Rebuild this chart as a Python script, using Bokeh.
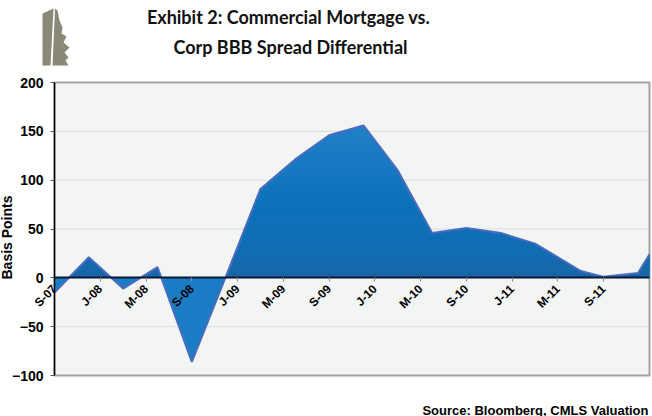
from math import pi
from bokeh.plotting import figure
from bokeh.layouts import column
from bokeh.models import Range1d, FixedTicker
from bokeh.core.properties import value
from bokeh.embed import file_html
from bokeh.resources import INLINE

# ---- data (month index counted from Sep 2007) ----
months = [0, 3, 6, 9, 12, 15, 18, 21, 24, 27, 30, 33, 36, 39, 42, 46, 48, 51, 52]
spread_diff = [-15, 21, -11, 11, -86, 2, 91, 121, 146, 156, 110, 46, 51, 46, 35, 7, 1, 5, 24]
tick_months = [0, 4, 8, 12, 16, 20, 24, 28, 32, 36, 40, 44, 48]
tick_labels = ["S-07", "J-08", "M-08", "S-08", "J-09", "M-09", "S-09",
               "J-10", "M-10", "S-10", "J-11", "M-11", "S-11"]
y_ticks = [-100, -50, 0, 50, 100, 150, 200]
title_lines = ["Exhibit 2: Commercial Mortgage vs.", "Corp BBB Spread Differential"]
y_title = "Basis Points"
source_text = "Source: Bloomberg, CMLS Valuation"

X0, X1 = 0, 52          # axis extent (months)
Y0, Y1 = -100, 200      # axis extent (basis points)

ARIAL = "Liberation Sans"

# ---- layout geometry of the main chart (pixels) ----
W, H = 652, 320
FL, FR, FT, FB = 54, 649, 10, 303   # plot-area edges inside the main canvas
ppx = (FR - FL) / (X1 - X0)
ppy = (FB - FT) / (Y1 - Y0)
x_start = X0 - FL / ppx
x_end = X1 + (W - FR) / ppx
y_start = Y0 - (H - FB) / ppy
y_end = Y1 + FT / ppy

# ---- gradient styling for the area fill ----
NEG_COLOR = "#1b7cc6"
grad_stops = [(0, (0x17, 0x67, 0xa8)), (30, (0x10, 0x6d, 0xb3)),
              (70, (0x0b, 0x71, 0xba)), (160, (0x22, 0x82, 0xc8))]
grad_levels = list(range(0, 160, 8))


def grad_color(t):
    for (t0, c0), (t1, c1) in zip(grad_stops[:-1], grad_stops[1:]):
        if t0 <= t <= t1:
            f = (t - t0) / (t1 - t0)
            return "#%02x%02x%02x" % tuple(round(a + (b - a) * f) for a, b in zip(c0, c1))
    return "#%02x%02x%02x" % grad_stops[-1][1]


def part_above(t):
    """Outline of the area part lying above level t (crossings of level t added)."""
    xs, ys = [], []
    for i, (x, y) in enumerate(zip(months, spread_diff)):
        if i > 0:
            xp, yp = months[i - 1], spread_diff[i - 1]
            if (yp - t) * (y - t) < 0:
                xs.append(xp + (t - yp) * (x - xp) / (y - yp))
                ys.append(t)
        xs.append(x)
        ys.append(max(y, t))
    return xs, ys


# ---- header (title + logo) ----
header = figure(width=652, height=72, x_range=Range1d(0, 652), y_range=Range1d(72, 0),
                toolbar_location=None, output_backend="svg", min_border=0)
header.xaxis.visible = False
header.yaxis.visible = False
header.grid.visible = False
header.outline_line_color = None
header.text(x=[288, 290], y=[16.5, 46], text=title_lines,
            text_font=value("Lato"), text_font_style="bold", text_font_size="18px",
            text_align="center", text_baseline="alphabetic", text_color="#111111")
# small logo mark
header.patch([42, 53, 50, 42], [13, 8, 65, 65], fill_color="#8a8977", line_color=None)
header.patch([54.5, 57, 59, 62, 61, 66, 63, 69, 64, 68, 65, 68, 52],
             [8, 10, 20, 27, 33, 36, 42, 47, 52, 57, 60, 65, 65],
             fill_color="#8a8977", line_color=None)

# ---- main chart: the frame fills the whole canvas ----
p = figure(width=W, height=H, x_range=Range1d(x_start, x_end), y_range=Range1d(y_start, y_end),
           toolbar_location=None, output_backend="svg", min_border=0)
p.background_fill_color = "white"
p.border_fill_color = "white"
p.outline_line_color = None
p.xgrid.visible = False
p.ygrid.visible = False

bg = p.quad(left=[X0], right=[X1], bottom=[Y0], top=[Y1], fill_color="#f3f4f4", line_color=None)
bg.level = "image"
grid = p.segment(x0=[X0] * len(y_ticks), x1=[X1] * len(y_ticks), y0=y_ticks, y1=y_ticks,
                 line_color="#dcdcdc", line_width=1)
grid.level = "image"
border = p.quad(left=[X0], right=[X1], bottom=[Y0], top=[Y1], fill_color=None,
                line_color="#a3a3a3", line_width=2)
border.level = "image"

# area: negative part in one tone, positive part with a vertical gradient
p.varea(x=months, y1=0, y2=spread_diff, fill_color=NEG_COLOR)
for t in grad_levels:
    gx, gy = part_above(t)
    p.varea(x=gx, y1=t, y2=gy, fill_color=grad_color(t))
p.line(x=months, y=spread_diff, line_color="#4a6cbf", line_width=2)

xa = p.xaxis[0]
xa.fixed_location = 0
xa.bounds = (X0, X1)
xa.ticker = FixedTicker(ticks=tick_months)
xa.major_label_overrides = {m: l for m, l in zip(tick_months, tick_labels)}
xa.major_label_orientation = pi / 4
xa.major_label_text_font = ARIAL
xa.major_label_text_font_style = "bold"
xa.major_label_text_font_size = "12px"
xa.major_label_text_color = "#000000"
xa.major_label_standoff = 5
xa.axis_line_color = "#0b1838"
xa.axis_line_width = 2
xa.major_tick_out = 4
xa.major_tick_in = 0
xa.major_tick_line_color = "#8a8a8a"
xa.minor_tick_out = 0
xa.minor_tick_in = 0

ya = p.yaxis[0]
ya.fixed_location = X0
ya.bounds = (Y0, Y1)
ya.ticker = FixedTicker(ticks=y_ticks)
ya.major_label_text_font = ARIAL
ya.major_label_text_font_style = "bold"
ya.major_label_text_font_size = "14px"
ya.major_label_text_color = "#000000"
ya.major_label_standoff = 7
ya.axis_line_color = "#000000"
ya.axis_line_width = 1.5
ya.major_tick_out = 4
ya.major_tick_in = 0
ya.major_tick_line_color = "#555555"
ya.minor_tick_out = 0
ya.minor_tick_in = 0

# axis title at the far left edge
p.text(x=[x_start + 6 / ppx], y=[Y1 - (165 - FT) / ppy], text=[y_title], angle=pi / 2,
       x_offset=0, text_align="center", text_baseline="alphabetic", text_font=value(ARIAL),
       text_font_style="bold", text_font_size="14px", text_color="#000000")

# ---- footer (source) ----
footer = figure(width=652, height=24, x_range=Range1d(0, 652), y_range=Range1d(24, 0),
                toolbar_location=None, output_backend="svg", min_border=0)
footer.xaxis.visible = False
footer.yaxis.visible = False
footer.grid.visible = False
footer.outline_line_color = None
footer.text(x=[648], y=[17.5], text=[source_text], text_font=value(ARIAL),
            text_font_style="bold", text_font_size="13px",
            text_align="right", text_baseline="alphabetic", text_color="#000000")

layout = column(header, p, footer, spacing=0)
open("out.html", "w").write(file_html(layout, INLINE))
